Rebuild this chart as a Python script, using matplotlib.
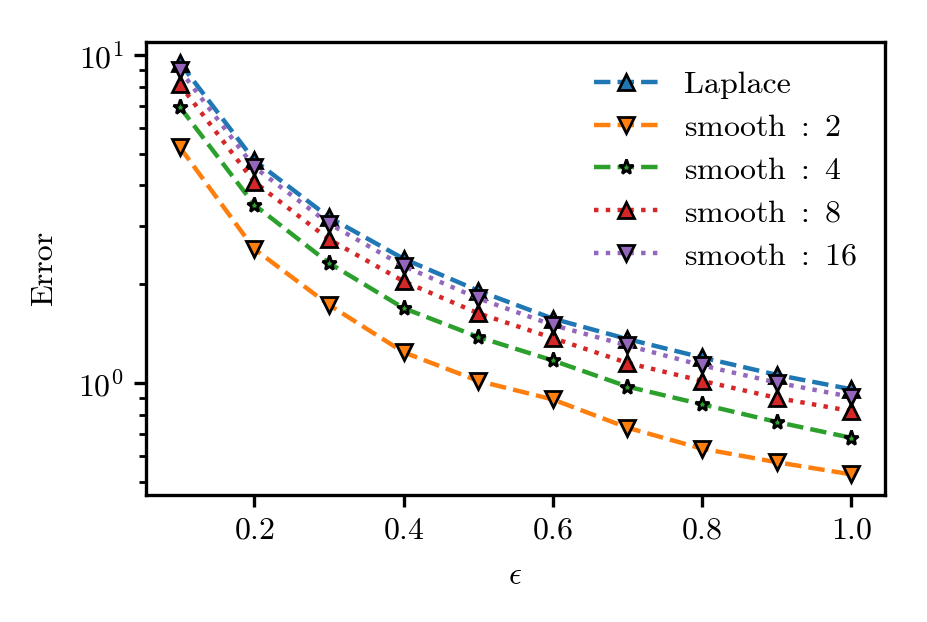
import matplotlib
matplotlib.use('Agg')
from matplotlib import pyplot as plt

plt.rcParams['font.family'] = 'serif'
plt.rcParams['font.serif'] = ['cmr10']
plt.rcParams['mathtext.fontset'] = 'cm'
plt.rcParams['axes.formatter.use_mathtext'] = True
plt.rcParams['font.size'] = 11.5
plt.rcParams['axes.linewidth'] = 1.2

DPI = 200

eps = [0.1, 0.2, 0.3, 0.4, 0.5, 0.6, 0.7, 0.8, 0.9, 1.0]
laplace = [9.47, 4.77, 3.20, 2.39, 1.91, 1.57, 1.36, 1.195, 1.058, 0.956]
smooth_2 = [5.24, 2.56, 1.73, 1.24, 1.014, 0.89, 0.73, 0.63, 0.573, 0.526]
smooth_4 = [6.95, 3.49, 2.32, 1.69, 1.38, 1.17, 0.974, 0.86, 0.76, 0.68]
smooth_8 = [8.13, 4.10, 2.74, 2.04, 1.63, 1.37, 1.15, 1.014, 0.90, 0.82]
smooth_16 = [9.0, 4.55, 3.06, 2.27, 1.81, 1.50, 1.30, 1.13, 1.002, 0.906]

series = [
    ('Laplace', laplace, '--', '^'),
    (r'$\mathrm{smooth}\ :\ 2$', smooth_2, '--', 'v'),
    (r'$\mathrm{smooth}\ :\ 4$', smooth_4, '--', '*'),
    (r'$\mathrm{smooth}\ :\ 8$', smooth_8, ':', '^'),
    (r'$\mathrm{smooth}\ :\ 16$', smooth_16, ':', 'v'),
]

fig, ax = plt.subplots(figsize=(927 / DPI, 622 / DPI), dpi=DPI)
fig.subplots_adjust(left=0.1575, right=0.9547, top=0.9325, bottom=0.2042)

for label, values, ls, marker in series:
  ax.plot(eps, values, linestyle=ls, linewidth=1.6, marker=marker,
          markersize=5.5, markeredgecolor='black', markeredgewidth=1.0,
          label=label)

ax.set_yscale('log')
ax.set_xlabel(r'$\epsilon$', labelpad=6.5)
ax.set_ylabel('Error', labelpad=7.5)
ax.tick_params(which='major', width=1.2, length=4.4)
ax.tick_params(which='minor', width=1.0, length=2.7)
ax.legend(loc='upper right', frameon=False, labelspacing=0.45)

fig.savefig('out.png', dpi=DPI)
